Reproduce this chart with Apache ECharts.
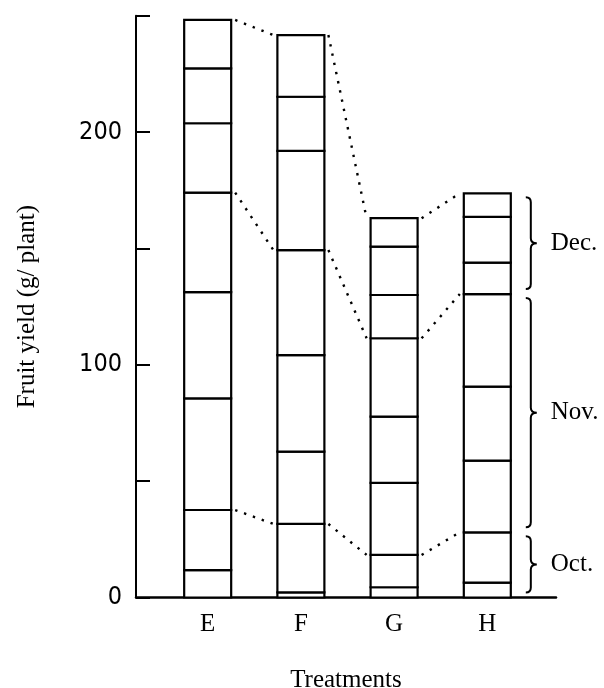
<!DOCTYPE html>
<html>
<head>
<meta charset="utf-8">
<script src="https://cdn.jsdelivr.net/npm/echarts@6/dist/echarts.min.js"></script>
<style>
  html, body { margin: 0; padding: 0; background: #fff; }
  #chart { width: 604px; height: 688px; }
</style>
</head>
<body>
<div id="chart"></div>
<script>
// Treatments (categories)
const treatments = ['E', 'F', 'G', 'H'];
// Yield of each harvest (g/plant), stacked bottom to top; order E, F, G, H
const octH1 = [11.8, 2.2, 4.4, 6.4];
const octH2 = [25.8, 29.4, 13.9, 21.6];
const novH1 = [48.0, 31.1, 31.0, 30.8];
const novH2 = [45.6, 41.5, 28.4, 31.8];
const novH3 = [42.8, 45.1, 33.7, 39.8];
const decH1 = [29.8, 42.6, 18.6, 13.5];
const decH2 = [23.6, 23.3, 20.8, 19.7];
const decH3 = [20.8, 26.5, 12.2, 10.1];
const monthNames = ['Oct.', 'Nov.', 'Dec.'];
const monthGroups = [[octH1, octH2], [novH1, novH2, novH3], [decH1, decH2, decH3]];
// y-axis ticks
const yTicks = [0, 50, 100, 150, 200, 250];
const yLabelled = [0, 100, 200];

const SERIF = '"Liberation Serif", "Times New Roman", serif';
const NARROW = '"DejaVu Sans Condensed", "Liberation Sans", sans-serif';
const BAR_W = 47;
const HW = BAR_W / 2;

const allHarvests = [].concat(...monthGroups);

// stacked segments [x, lower, upper] built from the harvest arrays
const segmentData = [];
{
  let cum = treatments.map(() => 0);
  allHarvests.forEach(arr => {
    arr.forEach((v, i) => {
      segmentData.push([i + 1, cum[i], cum[i] + v]);
      cum[i] += v;
    });
  });
}

// cumulative totals at the end of each month, per treatment
const monthEnds = [];
{
  let cum = treatments.map(() => 0);
  monthGroups.forEach(g => {
    g.forEach(arr => { cum = cum.map((c, i) => c + arr[i]); });
    monthEnds.push(cum.slice());
  });
}

const barSeries = {
  type: 'custom',
  silent: true,
  data: segmentData,
  encode: { x: 0, y: [1, 2] },
  renderItem: function (params, api) {
    const p0 = api.coord([api.value(0), api.value(1)]);
    const p1 = api.coord([api.value(0), api.value(2)]);
    return {
      type: 'rect',
      shape: { x: p0[0] - HW, y: p1[1], width: BAR_W, height: p0[1] - p1[1] },
      style: { fill: '#fff', stroke: '#000', lineWidth: 2.2 }
    };
  },
  z: 2
};

// dotted connector segments between neighbouring bars
const connectorData = [];
monthEnds.forEach(ends => {
  for (let i = 0; i < treatments.length - 1; i++) {
    connectorData.push([i + 1, ends[i], i + 2, ends[i + 1]]);
  }
});

const connectorSeries = {
  type: 'custom',
  silent: true,
  data: connectorData,
  encode: { x: [0, 2], y: [1, 3] },
  renderItem: function (params, api) {
    const a = api.coord([api.value(0), api.value(1)]);
    const b = api.coord([api.value(2), api.value(3)]);
    return {
      type: 'line',
      shape: { x1: a[0] + HW + 4, y1: a[1], x2: b[0] - HW - 4, y2: b[1] },
      style: { stroke: '#000', lineWidth: 2.4, lineDash: [2.4, 7], fill: null }
    };
  },
  z: 1
};

// braces next to the last bar (H)
const lastIdx = treatments.length - 1;
const braceData = monthEnds.map((ends, m) => {
  const lo = m === 0 ? 0 : monthEnds[m - 1][lastIdx];
  return [lastIdx + 1, lo, ends[lastIdx]];
});

const braceSeries = {
  type: 'custom',
  silent: true,
  data: braceData,
  encode: { x: 0, y: [1, 2] },
  renderItem: function (params, api) {
    const p0 = api.coord([api.value(0), api.value(1)]);
    const p1 = api.coord([api.value(0), api.value(2)]);
    const spine = p0[0] + HW + 20;
    const x0 = spine - 5;
    const tip = spine + 6;
    const yb = p0[1] - 5;
    const yt = p1[1] + 4;
    const ym = (yb + yt) / 2;
    const r = 5;
    const path = 'M' + x0 + ',' + yt +
      ' Q' + spine + ',' + yt + ' ' + spine + ',' + (yt + r) +
      ' L' + spine + ',' + (ym - r) +
      ' Q' + spine + ',' + ym + ' ' + tip + ',' + ym +
      ' Q' + spine + ',' + ym + ' ' + spine + ',' + (ym + r) +
      ' L' + spine + ',' + (yb - r) +
      ' Q' + spine + ',' + yb + ' ' + x0 + ',' + yb;
    return {
      type: 'group',
      children: [
        {
          type: 'path',
          shape: { pathData: path },
          style: { stroke: '#000', lineWidth: 2, fill: null }
        },
        {
          type: 'text',
          x: tip + 14,
          y: ym,
          style: {
            text: monthNames[params.dataIndex],
            font: '25px ' + SERIF,
            fill: '#000',
            align: 'left',
            verticalAlign: 'middle'
          }
        }
      ]
    };
  },
  z: 3
};

const chart = echarts.init(document.getElementById('chart'), null, { renderer: 'canvas' });
chart.setOption({
  animation: false,
  backgroundColor: '#fff',
  grid: { left: 136, right: 48, top: 15.75, bottom: 90.5, containLabel: false, outerBoundsMode: 'none' },
  xAxis: {
    type: 'value',
    min: 0.231,
    max: 4.737,
    axisLine: { show: true, onZero: false, lineStyle: { color: '#000', width: 2.5 } },
    axisTick: { show: false },
    splitLine: { show: false },
    axisLabel: {
      customValues: [1, 2, 3, 4],
      formatter: v => treatments[Math.round(v) - 1] || '',
      color: '#000',
      fontFamily: SERIF,
      fontSize: 25,
      margin: 14
    },
    name: 'Treatments',
    nameLocation: 'middle',
    nameGap: 70,
    nameTextStyle: { color: '#000', fontFamily: SERIF, fontSize: 25 }
  },
  yAxis: {
    type: 'value',
    min: yTicks[0],
    max: yTicks[yTicks.length - 1],
    interval: yTicks[1] - yTicks[0],
    axisLine: { show: true, onZero: false, lineStyle: { color: '#000', width: 2 } },
    axisTick: { show: true, inside: true, length: 14, lineStyle: { color: '#000', width: 2 } },
    splitLine: { show: false },
    axisLabel: {
      formatter: v => (yLabelled.indexOf(v) >= 0 ? String(v) : ''),
      color: '#000',
      fontFamily: NARROW,
      fontSize: 25,
      margin: 14
    },
    name: 'Fruit yield (g/ plant)',
    nameLocation: 'middle',
    nameRotate: 90,
    nameGap: 96,
    nameTextStyle: { color: '#000', fontFamily: SERIF, fontSize: 25 }
  },
  series: [connectorSeries, barSeries, braceSeries]
});
</script>
</body>
</html>
